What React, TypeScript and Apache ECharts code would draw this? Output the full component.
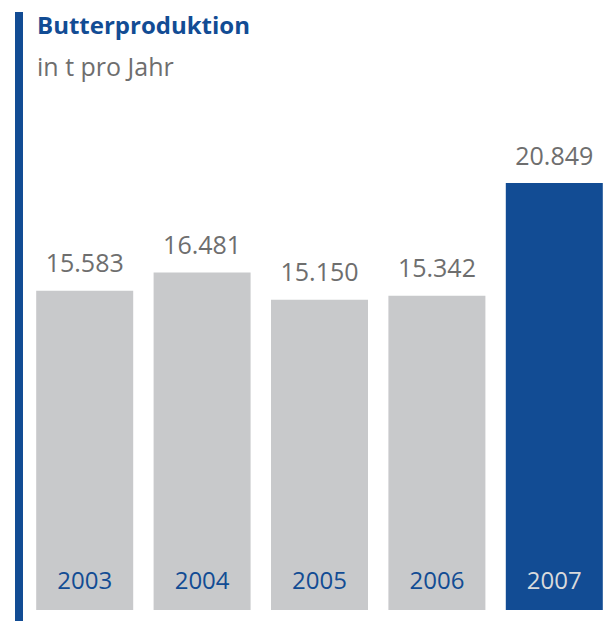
import React, { useEffect, useRef } from "react";
import * as echarts from "echarts";

const categories = ["2003", "2004", "2005", "2006", "2007"];
const values = [15583, 16481, 15150, 15342, 20849];
const highlight = [false, false, false, false, true];

const BLUE = "#124c94";
const GRAY = "#c8c9cb";
const TEXTGRAY = "#6e6e6e";

function fmt(v: number): string {
  const s = String(Math.round(v));
  return s.replace(/\B(?=(\d{3})+(?!\d))/g, ".");
}

export default function App() {
  const ref = useRef<HTMLDivElement>(null);
  useEffect(() => {
    if (!ref.current) return;
    const chart = echarts.init(ref.current, null, { renderer: "svg" });
    const font = "'Open Sans', 'Noto Sans', sans-serif";
    chart.setOption({
      animation: false,
      textStyle: { fontFamily: font },
      title: [
        {
          text: "Butterproduktion",
          left: 32,
          top: 7,
          textStyle: { color: BLUE, fontSize: 24, fontWeight: "bold", fontFamily: font },
        },
        {
          text: "in t pro Jahr",
          left: 32,
          top: 48,
          textStyle: { color: TEXTGRAY, fontSize: 25, fontWeight: "normal", fontFamily: font },
        },
      ],
      graphic: [
        {
          type: "rect",
          shape: { x: 15, y: 12, width: 8, height: 609 },
          style: { fill: BLUE },
        },
      ],
      grid: { left: 26, right: 2, top: 98, bottom: 11, containLabel: false },
      xAxis: {
        type: "category",
        data: categories,
        axisLine: { show: false },
        axisTick: { show: false },
        axisLabel: {
          inside: true,
          margin: 19,
          fontSize: 24,
          fontFamily: font,
          verticalAlign: "bottom",
          color: (_v: string, i: number) => (highlight[i] ? "#d9dadc" : BLUE),
        },
        z: 10,
      },
      yAxis: {
        type: "value",
        min: 0,
        max: 25000,
        show: false,
        splitLine: { show: false },
      },
      series: [
        {
          type: "bar",
          barWidth: 97,
          data: values.map((v, i) => ({
            value: v,
            itemStyle: { color: highlight[i] ? BLUE : GRAY },
          })),
          label: {
            show: true,
            position: "top",
            distance: 16,
            fontSize: 25,
            color: TEXTGRAY,
            fontFamily: font,
            formatter: (p: any) => fmt(p.value),
          },
        },
      ],
    });
    return () => chart.dispose();
  }, []);
  return (
    <div
      ref={ref}
      style={{ position: "fixed", left: 0, top: 0, width: 615, height: 621, background: "#fff" }}
    />
  );
}
